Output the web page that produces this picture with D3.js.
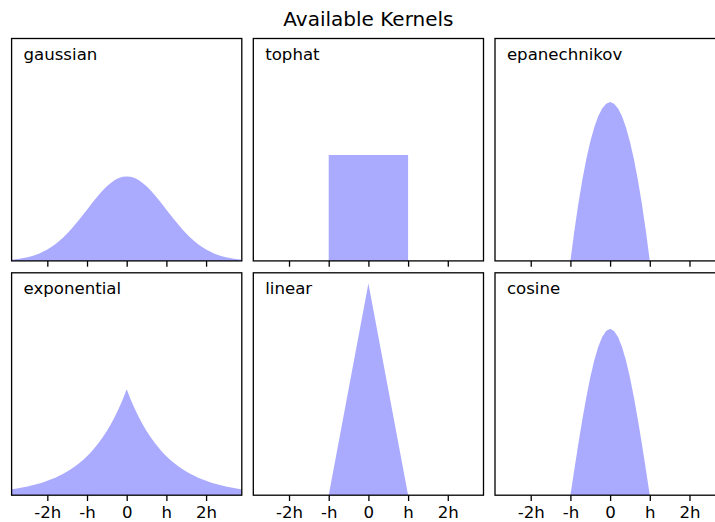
<!DOCTYPE html>
<html>
<head>
<meta charset="utf-8">
<script src="https://cdn.jsdelivr.net/npm/d3@7"></script>
<style>
  html, body { margin: 0; padding: 0; background: #fff; }
  svg { display: block; font-family: "DejaVu Sans", sans-serif; }
</style>
</head>
<body>
<svg id="chart" width="715" height="522"></svg>
<script>
// ---------------- data ----------------
const kernelNames = ["gaussian", "tophat", "epanechnikov", "exponential", "linear", "cosine"];

const tickValues = [-2, -1, 0, 1, 2];
const tickLabels = ["-2h", "-h", "0", "h", "2h"];

// wide sample grid (x in units of h)
const xWide = [-2.9,-2.8,-2.7,-2.6,-2.5,-2.4,-2.3,-2.2,-2.1,-2.0,-1.9,-1.8,-1.7,-1.6,-1.5,-1.4,-1.3,-1.2,-1.1,-1.0,
  -0.9,-0.8,-0.7,-0.6,-0.5,-0.4,-0.3,-0.2,-0.1,0.0,0.1,0.2,0.3,0.4,0.5,0.6,0.7,0.8,0.9,1.0,
  1.1,1.2,1.3,1.4,1.5,1.6,1.7,1.8,1.9,2.0,2.1,2.2,2.3,2.4,2.5,2.6,2.7,2.8,2.9];
// narrow sample grid for compact kernels
const xUnit = [-1.0,-0.9,-0.8,-0.7,-0.6,-0.5,-0.4,-0.3,-0.2,-0.1,0.0,0.1,0.2,0.3,0.4,0.5,0.6,0.7,0.8,0.9,1.0];

const gaussianY = [0.0060,0.0079,0.0104,0.0136,0.0175,0.0224,0.0283,0.0355,0.0440,0.0540,0.0656,0.0790,0.0940,0.1109,0.1295,0.1497,0.1714,0.1942,0.2179,0.2420,
  0.2661,0.2897,0.3123,0.3332,0.3521,0.3683,0.3814,0.3910,0.3970,0.3989,0.3970,0.3910,0.3814,0.3683,0.3521,0.3332,0.3123,0.2897,0.2661,0.2420,
  0.2179,0.1942,0.1714,0.1497,0.1295,0.1109,0.0940,0.0790,0.0656,0.0540,0.0440,0.0355,0.0283,0.0224,0.0175,0.0136,0.0104,0.0079,0.0060];

const exponentialY = [0.0275,0.0304,0.0336,0.0371,0.0410,0.0454,0.0501,0.0554,0.0612,0.0677,0.0748,0.0826,0.0913,0.1009,0.1116,0.1233,0.1363,0.1506,0.1664,0.1839,
  0.2033,0.2247,0.2483,0.2744,0.3033,0.3352,0.3704,0.4094,0.4524,0.5000,0.4524,0.4094,0.3704,0.3352,0.3033,0.2744,0.2483,0.2247,0.2033,0.1839,
  0.1664,0.1506,0.1363,0.1233,0.1116,0.1009,0.0913,0.0826,0.0748,0.0677,0.0612,0.0554,0.0501,0.0454,0.0410,0.0371,0.0336,0.0304,0.0275];

const epanechnikovY = [0,0.1425,0.27,0.3825,0.48,0.5625,0.63,0.6825,0.72,0.7425,0.75,0.7425,0.72,0.6825,0.63,0.5625,0.48,0.3825,0.27,0.1425,0];

const cosineY = [0,0.1229,0.2427,0.3566,0.4616,0.5554,0.6354,0.6998,0.7470,0.7757,0.7854,0.7757,0.7470,0.6998,0.6354,0.5554,0.4616,0.3566,0.2427,0.1229,0];

const tophatX = [-1, -1, 1, 1];
const tophatY = [0, 0.5, 0.5, 0];

const linearX = [-1, 0, 1];
const linearY = [0, 1, 0];

const series = {
  gaussian:     { x: xWide,  y: gaussianY },
  tophat:       { x: tophatX, y: tophatY },
  epanechnikov: { x: xUnit,  y: epanechnikovY },
  exponential:  { x: xWide,  y: exponentialY },
  linear:       { x: linearX, y: linearY },
  cosine:       { x: xUnit,  y: cosineY }
};

// ---------------- layout ----------------
const svg = d3.select("#chart");
const W = 230.2, H = 222.4;
const left0 = 11.6, colStep = 241.7;
const top0 = 38.5, rowStep = 234.3;
const fs = 16.6;
const fill = "#AAAAFF";

svg.append("text")
  .attr("x", 368.4).attr("y", 26)
  .attr("text-anchor", "middle")
  .attr("font-size", 20)
  .attr("fill", "#000")
  .text("Available Kernels");

const x = d3.scaleLinear().domain([-2.9, 2.9]).range([0, W]);
const y = d3.scaleLinear().domain([0, 1.05]).range([H, 0]);

kernelNames.forEach((name, i) => {
  const col = i % 3, row = Math.floor(i / 3);
  const g = svg.append("g")
    .attr("transform", `translate(${left0 + col * colStep},${top0 + row * rowStep})`);

  const clipId = "clip" + i;
  g.append("clipPath").attr("id", clipId)
    .append("rect").attr("x", 0).attr("y", 0).attr("width", W).attr("height", H);

  const s = series[name];
  const pts = s.x.map((v, k) => [v, s.y[k]]);
  const area = d3.area()
    .x(d => x(d[0]))
    .y0(y(0))
    .y1(d => y(d[1]))
    .curve(d3.curveLinear);

  g.append("path")
    .attr("clip-path", `url(#${clipId})`)
    .attr("d", area(pts))
    .attr("fill", fill)
    .attr("stroke", "none");

  // x axis ticks
  const axis = d3.axisBottom(x)
    .tickValues(tickValues)
    .tickSize(5.8)
    .tickPadding(5)
    .tickFormat((d, k) => row === 1 ? tickLabels[k] : "");
  const ax = g.append("g").attr("transform", `translate(0,${H})`).call(axis);
  ax.select(".domain").remove();
  ax.selectAll(".tick line").attr("stroke", "#000").attr("stroke-width", 1.3);
  ax.selectAll(".tick text")
    .attr("font-size", fs)
    .attr("font-family", "DejaVu Sans, sans-serif")
    .attr("fill", "#000");

  // frame
  g.append("rect")
    .attr("x", 0).attr("y", 0).attr("width", W).attr("height", H)
    .attr("fill", "none").attr("stroke", "#000").attr("stroke-width", 1.3);

  // label
  g.append("text")
    .attr("x", x(-2.6)).attr("y", y(0.95))
    .attr("font-size", fs)
    .attr("fill", "#000")
    .text(name);
});
</script>
</body>
</html>
